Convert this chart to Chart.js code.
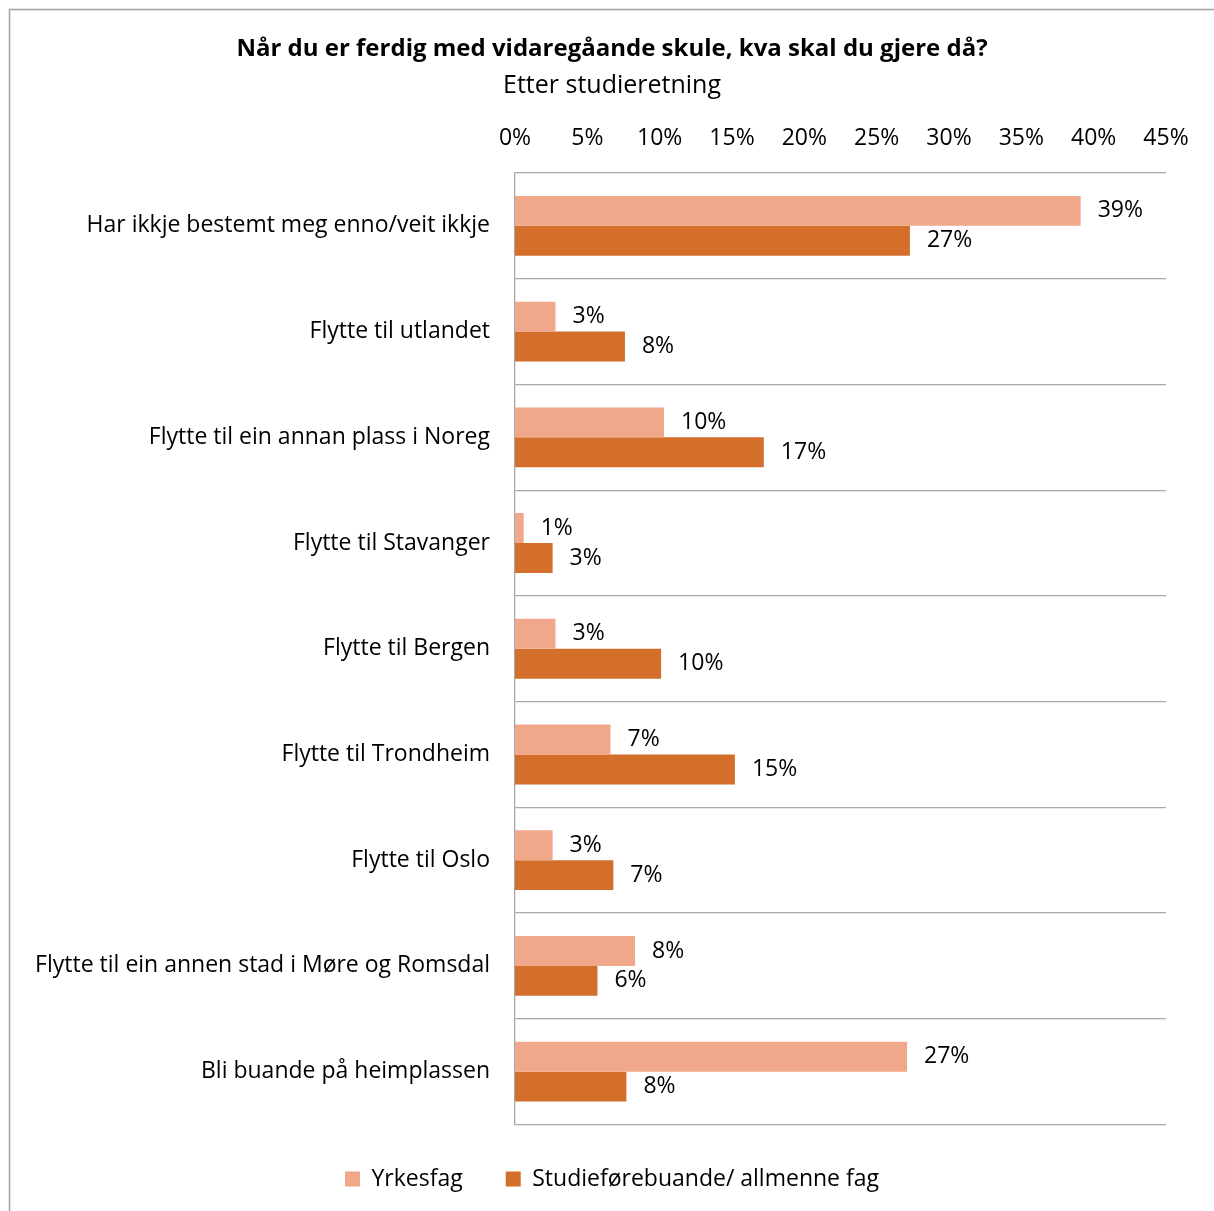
<!DOCTYPE html>
<html>
<head>
<meta charset="utf-8">
<style>
html,body{margin:0;padding:0;background:#fff;}
#wrap{width:1214px;height:1211px;position:relative;}
#err{position:absolute;left:20px;top:20px;font:12px monospace;white-space:pre-wrap;width:1100px;color:#900;}
</style>
<script src="https://cdn.jsdelivr.net/npm/chart.js@4.4.0/dist/chart.umd.min.js"></script>
</head>
<body>
<div id="wrap"><canvas id="c" width="1214" height="1211"></canvas><div id="err"></div></div>
<script>
const titleText = "Når du er ferdig med vidaregåande skule, kva skal du gjere då?";
const subtitleText = "Etter studieretning";
const categories = [
  "Har ikkje bestemt meg enno/veit ikkje",
  "Flytte til utlandet",
  "Flytte til ein annan plass i Noreg",
  "Flytte til Stavanger",
  "Flytte til Bergen",
  "Flytte til Trondheim",
  "Flytte til Oslo",
  "Flytte til ein annen stad i Møre og Romsdal",
  "Bli buande på heimplassen"
];
const seriesNames = ["Yrkesfag", "Studieførebuande/ allmenne fag"];
const yrkesfag = [39.1, 2.8, 10.3, 0.6, 2.8, 6.6, 2.6, 8.3, 27.1];
const studie = [27.3, 7.6, 17.2, 2.6, 10.1, 15.2, 6.8, 5.7, 7.7];
const axisMin = 0, axisMax = 45, axisStep = 5;

const FONT = "'Open Sans', 'DejaVu Sans', sans-serif";
const GRID = '#a8a8a8';

const frame = {
  id: 'frame',
  beforeDraw(chart) {
    const ctx = chart.ctx;
    ctx.save();
    ctx.strokeStyle = '#a0a0a0';
    ctx.lineWidth = 1.5;
    ctx.beginPath();
    ctx.moveTo(9.5, 1211);
    ctx.lineTo(9.5, 9.5);
    ctx.lineTo(1214, 9.5);
    ctx.stroke();
    ctx.restore();
  }
};

const valueLabels = {
  id: 'valueLabels',
  afterDatasetsDraw(chart) {
    const ctx = chart.ctx;
    ctx.save();
    ctx.font = "23px " + FONT;
    ctx.fillStyle = '#000';
    ctx.textAlign = 'left';
    ctx.textBaseline = 'middle';
    chart.data.datasets.forEach((ds, di) => {
      const meta = chart.getDatasetMeta(di);
      meta.data.forEach((el, i) => {
        ctx.fillText(Math.round(ds.data[i]) + '%', el.x + 17, el.y);
      });
    });
    ctx.restore();
  }
};

try {
new Chart(document.getElementById('c'), {
  type: 'bar',
  data: {
    labels: categories,
    datasets: [
      { label: seriesNames[0], data: yrkesfag, backgroundColor: '#F1A78A', borderWidth: 0 },
      { label: seriesNames[1], data: studie, backgroundColor: '#D36F2B', borderWidth: 0 }
    ]
  },
  options: {
    indexAxis: 'y',
    responsive: false,
    animation: false,
    categoryPercentage: 0.566,
    barPercentage: 1,
    layout: { padding: { left: 10, right: 0, top: 10, bottom: 10.5 } },
    plugins: {
      title: {
        display: true, text: titleText, color: '#000',
        font: { family: FONT, size: 24, weight: 'bold' },
        padding: { top: 25, bottom: 7 }
      },
      subtitle: {
        display: true, text: subtitleText, color: '#000',
        font: { family: FONT, size: 25, weight: 'normal' },
        padding: { top: 0, bottom: 2.6 }
      },
      legend: {
        position: 'bottom',
        labels: {
          color: '#000', boxWidth: 15, boxHeight: 15, padding: 43,
          font: { family: FONT, size: 23 }
        }
      },
      tooltip: { enabled: false }
    },
    scales: {
      x: {
        position: 'top', min: axisMin, max: axisMax,
        grid: { display: false, drawTicks: false },
        border: { display: false },
        ticks: {
          stepSize: axisStep, color: '#000', padding: 21,
          font: { family: FONT, size: 23 },
          callback: function(v) { return v + '%'; }
        }
      },
      y: {
        grid: { display: true, color: GRID, lineWidth: 1.3, drawTicks: false, offset: true },
        border: { display: true, color: GRID, width: 1.3 },
        ticks: { color: '#000', padding: 25, font: { family: FONT, size: 23 } },
        afterFit: function(s) { s.width = 505; }
      },
      yr: {
        type: 'linear', position: 'right', display: true, min: 0, max: 1,
        grid: { display: false, drawTicks: false },
        border: { display: false },
        ticks: { display: false },
        afterFit: function(s) { s.width = 48; }
      }
    }
  },
  plugins: [frame, valueLabels]
});
} catch (e) {
  document.getElementById('err').textContent = String(e) + '\n' + (e.stack || '').slice(0, 3000);
}
</script>
</body>
</html>
